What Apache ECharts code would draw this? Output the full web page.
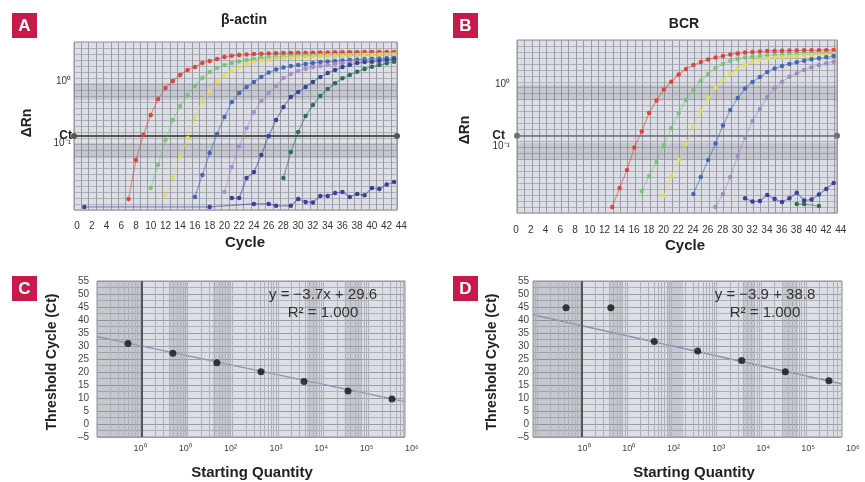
<!DOCTYPE html>
<html><head><meta charset="utf-8">
<script src="https://cdn.jsdelivr.net/npm/echarts@6/dist/echarts.min.js"></script>
<style>html,body{margin:0;padding:0;background:#fff}#c{width:865px;height:482px}</style>
</head><body><div id="c"></div>
<script>
// ---------- Panel A (beta-actin) amplification curves: value per cycle, from start cycle ----------
const aRedStart = 7;
const aRed = [0.0125,0.053,0.135,0.283,0.513,0.771,1.0,1.25,1.5,1.68,1.95,2.1,2.26,2.44,2.55,2.63,2.68,2.72,2.75,2.78,2.80,2.82,2.84,2.85,2.86,2.87,2.88,2.89,2.90,2.91,2.92,2.92,2.93,2.93,2.94,2.94,2.95];
const aGreenStart = 10;
const aGreen = [0.0188,0.0442,0.112,0.235,0.395,0.595,0.831,1.118,1.397,1.62,1.81,1.95,2.06,2.18,2.26,2.35,2.39,2.44,2.48,2.51,2.53,2.55,2.56,2.57,2.58,2.59,2.60,2.60,2.61,2.62,2.62,2.63,2.63,2.64];
const aYellowStart = 12;
const aYellow = [0.0145,0.0272,0.0595,0.1205,0.253,0.458,0.690,0.963,1.204,1.45,1.68,1.88,2.02,2.14,2.22,2.31,2.35,2.39,2.44,2.47,2.50,2.53,2.55,2.57,2.59,2.61,2.63,2.65,2.66,2.68,2.69,2.71];
const aBlueStart = 16;
const aBlue = [0.01346,0.0305,0.069,0.1397,0.263,0.458,0.64,0.8,0.963,1.16,1.371,1.532,1.651,1.746,1.81,1.88,1.95,2.02,2.06,2.10,2.14,2.18,2.21,2.24,2.26,2.29,2.32,2.35];
const aPurpleStart = 20;
const aPurple = [0.0162,0.041,0.0895,0.1746,0.316,0.476,0.64,0.831,1.118,1.297,1.45,1.56,1.68,1.75,1.81,1.88,1.95,1.99,2.02,2.06,2.10,2.14,2.18,2.22];
const aNavyStart = 21;
const aNavy = [0.01297,0.01297,0.0272,0.0341,0.064,0.1297,0.235,0.381,0.552,0.665,0.8,0.963,1.16,1.346,1.504,1.682,1.81,1.95,2.02,2.05,2.13,2.18,2.24];
const aTealStart = 28;
const aTeal = [0.0272,0.0716,0.150,0.272,0.410,0.573,0.743,0.918,1.105,1.25,1.41,1.56,1.70,1.81,1.93,2.05];
const aNoiseCycles = [1,18,24,26,27,29,30,31,32,33,34,35,36,37,38,39,40,41,42,43];
const aNoiseValues = [0.0093,0.0093,0.0104,0.0104,0.0097,0.0097,0.0125,0.0112,0.0110,0.0140,0.0140,0.0156,0.0162,0.0135,0.0151,0.0143,0.0188,0.0181,0.0214,0.0235];
const aThreshold = 0.127;

// ---------- Panel B (BCR) ----------
const bRedStart = 13;
const bRed = [0.01065,0.0216,0.0421,0.0971,0.176,0.35,0.556,0.837,1.118,1.46,1.79,2.08,2.32,2.55,2.75,2.90,3.07,3.19,3.31,3.37,3.43,3.50,3.50,3.53,3.55,3.56,3.58,3.59,3.60,3.61,3.62];
const bGreenStart = 17;
const bGreen = [0.0193,0.0337,0.0566,0.1065,0.2003,0.35,0.567,0.821,1.147,1.488,1.86,2.16,2.41,2.60,2.75,2.85,2.90,2.96,3.01,3.04,3.07,3.10,3.13,3.15,3.17,3.19,3.22];
const bYellowStart = 20;
const bYellow = [0.016,0.0337,0.061,0.1106,0.208,0.377,0.61,0.885,1.19,1.488,1.82,2.08,2.32,2.5,2.65,2.75,2.8,2.85,2.9,2.96,3.01,3.07,3.07,3.13];
const bBlueStart = 24;
const bBlue = [0.01726,0.0325,0.061,0.1127,0.2198,0.391,0.61,0.868,1.105,1.331,1.60,1.82,2.00,2.16,2.30,2.44,2.57,2.67,2.77,2.90];
const bPurpleStart = 27;
const bPurple = [0.01065,0.01726,0.0325,0.0708,0.1407,0.26,0.406,0.634,0.875,1.118,1.346,1.527,1.726,1.91,2.08,2.21,2.35];
const bNoiseStart = 31;
const bNoise = [0.01472,0.01306,0.0133,0.01663,0.01433,0.01282,0.01472,0.01812,0.01356,0.01407,0.01694,0.0208,0.026];
const bLowCycles = [38,39,41];
const bLowValues = [0.0119,0.0119,0.01106];
const bThreshold = 0.149;

// ---------- Axis tick labels ----------
const cycleTicks = {min:0, max:44, step:2};
const logTickValues = [1, 0.1];
const logTickLabels = ['10⁰', '10⁻¹'];
const qtyTickLabels = ['10⁰','10⁰','10²','10³','10⁴','10⁵','10⁶'];

// ---------- Panel C (beta-actin standard curve) ----------
const cQuantity = [0.49, 4.8, 45, 424, 3770, 35300, 330000];
const cCt = [31.0, 27.2, 23.6, 20.1, 16.3, 12.7, 9.6];
const cFitQ = [0.1015, 640000];
const cFitCt = [33.6, 8.6];
// ---------- Panel D (BCR standard curve) ----------
const dQuantity = [0.44, 4.4, 41, 382, 3670, 34600, 326000];
const dCt = [44.7, 44.7, 31.7, 28.1, 24.4, 20.1, 16.6];
const dFitQ = [0.0805, 637000];
const dFitCt = [42.0, 15.4];

// ---------- styling ----------
const FONT = 'Liberation Sans, Arial, Helvetica, sans-serif';
const BG = '#dcdfe5', GL = '#999ca3', GL2 = '#aeb1b7', BAND = 'rgba(105,110,118,0.20)';
const cBands = [[0.1015,1],[4,10],[37,88],[4400,7700],[30000,72000]];
const dBands = [[0.0805,0.93],[4.2,8.2],[80,180],[3900,7300],[31000,66000]];

function seq(start, vals){ return vals.map((v,i)=>[start+i, v]); }
function zip(xs, ys){ return xs.map((x,i)=>[x, ys[i]]); }
function curve(xi, yi, data, color, op){
  return {type:'line', xAxisIndex:xi, yAxisIndex:yi, data:data, symbol:'circle', symbolSize:4.5,
    showSymbol:true, silent:true, z:5,
    itemStyle:{color:color, opacity:op}, lineStyle:{color:color, width:1.2, opacity:op*0.55}};
}
function logFmt(v){
  const l = Math.log10(v);
  for (let i=0;i<logTickValues.length;i++){ if (Math.abs(l-Math.log10(logTickValues[i]))<1e-6) return logTickLabels[i]; }
  return '';
}
function minorLogLines(min, max){
  const out=[];
  for (let k=-2;k<=6;k++) for (let m=1;m<=9;m++){ const v=m*Math.pow(10,k); if (v>min*1.01 && v<max*0.99 && !(k===0&&m===1)) out.push({xAxis:v}); }
  return out;
}
const gridBase = {show:true, backgroundColor:BG, borderColor:'#8d9097', borderWidth:1, outerBoundsMode:'none'};
const strip = {height:1, outerBoundsMode:'none'};

const xAxis = [
  {gridIndex:0, type:'value', min:-0.4, max:43.4, interval:1, axisLabel:{show:false}, axisLine:{show:false}, axisTick:{show:false}, splitLine:{show:true, lineStyle:{color:GL, width:1}}},
  {gridIndex:1, type:'value', min:cycleTicks.min, max:cycleTicks.max, interval:cycleTicks.step, axisLine:{show:false}, axisTick:{show:false}, splitLine:{show:false}, axisLabel:{fontSize:10, color:'#333', margin:10, fontFamily:FONT}},
  {gridIndex:2, type:'value', min:0.1, max:43.45, interval:1, axisLabel:{show:false}, axisLine:{show:false}, axisTick:{show:false}, splitLine:{show:true, lineStyle:{color:GL, width:1}}},
  {gridIndex:3, type:'value', min:cycleTicks.min, max:cycleTicks.max, interval:cycleTicks.step, axisLine:{show:false}, axisTick:{show:false}, splitLine:{show:false}, axisLabel:{fontSize:10, color:'#333', margin:11, fontFamily:FONT}},
  {gridIndex:4, type:'log', min:0.1015, max:640000, axisLabel:{show:false}, axisLine:{show:false}, axisTick:{show:false}, splitLine:{show:false}},
  {gridIndex:5, type:'value', min:0, max:6, interval:1, axisLine:{show:false}, axisTick:{show:false}, splitLine:{show:false}, axisLabel:{fontSize:9, color:'#444', margin:6, fontFamily:FONT, formatter:(v)=>qtyTickLabels[Math.round(v)]}},
  {gridIndex:6, type:'log', min:0.0805, max:637000, axisLabel:{show:false}, axisLine:{show:false}, axisTick:{show:false}, splitLine:{show:false}},
  {gridIndex:7, type:'value', min:0, max:6, interval:1, axisLine:{show:false}, axisTick:{show:false}, splitLine:{show:false}, axisLabel:{fontSize:9, color:'#444', margin:6, fontFamily:FONT, formatter:(v)=>qtyTickLabels[Math.round(v)]}}
];
const hidden = {axisLabel:{show:false}, axisLine:{show:false}, axisTick:{show:false}};
const yAxis = [
  {gridIndex:0, type:'log', min:0.0083, max:4.26, axisLine:{show:false}, axisTick:{show:false}, splitLine:{show:false},
    axisLabel:{fontSize:10, color:'#333', margin:3, padding:[0,0,5,0], fontFamily:FONT, formatter:logFmt, showMinLabel:true, showMaxLabel:true}},
  Object.assign({gridIndex:0, type:'value', min:0, max:28, interval:1, position:'right', splitLine:{show:true, lineStyle:{color:GL2, width:1}}}, hidden),
  Object.assign({gridIndex:1, type:'value', show:false}, {}),
  {gridIndex:2, type:'log', min:0.00853, max:5.26, axisLine:{show:false}, axisTick:{show:false}, splitLine:{show:false},
    axisLabel:{fontSize:10, color:'#333', margin:7, padding:[0,0,5,0], fontFamily:FONT, formatter:logFmt}},
  Object.assign({gridIndex:2, type:'value', min:0, max:29, interval:1, position:'right', splitLine:{show:true, lineStyle:{color:GL2, width:1}}}, hidden),
  {gridIndex:3, type:'value', show:false},
  {gridIndex:4, type:'value', min:-5, max:55, interval:5, axisLine:{show:false}, axisTick:{show:false},
    splitLine:{show:true, lineStyle:{color:GL, width:1}}, minorTick:{show:false, splitNumber:2}, minorSplitLine:{show:true, lineStyle:{color:GL2, width:1}},
    axisLabel:{fontSize:10, color:'#444', margin:8, fontFamily:FONT, formatter:(v)=>String(v).replace('-','–')}},
  {gridIndex:5, type:'value', show:false},
  {gridIndex:6, type:'value', min:-5, max:55, interval:5, axisLine:{show:false}, axisTick:{show:false},
    splitLine:{show:true, lineStyle:{color:GL, width:1}}, minorTick:{show:false, splitNumber:2}, minorSplitLine:{show:true, lineStyle:{color:GL2, width:1}},
    axisLabel:{fontSize:10, color:'#444', margin:4, fontFamily:FONT, formatter:(v)=>String(v).replace('-','–')}},
  {gridIndex:7, type:'value', show:false}
];

function thresholdSeries(xi, yi, thr, color, width, dist, padB){
  return {type:'line', xAxisIndex:xi, yAxisIndex:yi, data:[], silent:true, z:6,
    markLine:{silent:true, symbol:['circle','circle'], symbolSize:6, animation:false,
      lineStyle:{color:color, width:width, type:'solid'}, itemStyle:{color:'#222'},
      label:{show:true, position:'start', formatter:'Ct', fontWeight:'bold', fontSize:12, color:'#222', fontFamily:FONT, distance:dist, padding:[0,0,padB,0]},
      data:[{yAxis:thr}]}};
}
function bandSeries(xi, yi, bands, isX){
  return {type:'line', xAxisIndex:xi, yAxisIndex:yi, data:[], silent:true, z:1,
    markArea:{silent:true, itemStyle:{color:BAND}, data:bands.map(b=> isX ? [{xAxis:b[0]},{xAxis:b[1]}] : [{yAxis:b[0]},{yAxis:b[1]}])}};
}
function vLines(xi, yi, min, max){
  return {type:'line', xAxisIndex:xi, yAxisIndex:yi, data:[], silent:true, z:2,
    markLine:{silent:true, symbol:'none', label:{show:false}, lineStyle:{color:GL2, width:1, type:'solid'}, data:minorLogLines(min,max)}};
}
function unityLine(xi, yi){
  return {type:'line', xAxisIndex:xi, yAxisIndex:yi, data:[], silent:true, z:3,
    markLine:{silent:true, symbol:'none', label:{show:false}, lineStyle:{color:'#555', width:2, type:'solid'}, data:[{xAxis:1}]}};
}

const series = [
  bandSeries(0,0,[[0.5,0.93],[0.057,0.1]],false),
  thresholdSeries(0,0,aThreshold,'#555',2,2,9),
  curve(0,0,seq(aRedStart,aRed),'#e0443c',1),
  curve(0,0,seq(aGreenStart,aGreen),'#72c070',0.85),
  curve(0,0,seq(aYellowStart,aYellow),'#e8dc50',0.85),
  curve(0,0,seq(aBlueStart,aBlue),'#4467b8',1),
  curve(0,0,seq(aPurpleStart,aPurple),'#a788d2',0.9),
  curve(0,0,seq(aNavyStart,aNavy),'#34449a',1),
  curve(0,0,seq(aTealStart,aTeal),'#2c6e57',1),
  curve(0,0,zip(aNoiseCycles,aNoiseValues),'#3a3f9c',1),

  bandSeries(2,3,[[0.56,0.99],[0.061,0.115]],false),
  thresholdSeries(2,3,bThreshold,'#6e7076',1.5,12,2),
  curve(2,3,seq(bRedStart,bRed),'#e0443c',1),
  curve(2,3,seq(bGreenStart,bGreen),'#72c070',0.85),
  curve(2,3,seq(bYellowStart,bYellow),'#e8dc50',0.85),
  curve(2,3,seq(bBlueStart,bBlue),'#4467b8',1),
  curve(2,3,seq(bPurpleStart,bPurple),'#9a88bf',0.9),
  curve(2,3,seq(bNoiseStart,bNoise),'#3a3f9c',1),
  curve(2,3,zip(bLowCycles,bLowValues),'#2c6e57',1),

  bandSeries(4,6,cBands,true),
  vLines(4,6,0.1015,640000),
  unityLine(4,6),
  {type:'line', xAxisIndex:4, yAxisIndex:6, data:zip(cFitQ,cFitCt), symbol:'none', silent:true, z:4, lineStyle:{color:'#8a90b4', width:1.5}},
  {type:'scatter', xAxisIndex:4, yAxisIndex:6, data:zip(cQuantity,cCt), symbolSize:7, silent:true, z:5, itemStyle:{color:'#111'}},

  bandSeries(6,8,dBands,true),
  vLines(6,8,0.0805,637000),
  unityLine(6,8),
  {type:'line', xAxisIndex:6, yAxisIndex:8, data:zip(dFitQ,dFitCt), symbol:'none', silent:true, z:4, lineStyle:{color:'#8a90b4', width:1.5}},
  {type:'scatter', xAxisIndex:6, yAxisIndex:8, data:zip(dQuantity,dCt), symbolSize:7, silent:true, z:5, itemStyle:{color:'#111'}}
];

function txt(x,y,s,font,opts){
  return Object.assign({type:'text', x:x, y:y, silent:true, z:10, style:{text:s, font:font, fill:'#222', align:'center', verticalAlign:'middle', textAlign:'center', textVerticalAlign:'middle'}}, opts||{});
}
function badge(x,y,letter){
  return [{type:'rect', shape:{x:x,y:y,width:25,height:25}, style:{fill:'#c8194b'}, silent:true, z:10},
          txt(x+12.5,y+13,letter,'bold 17px '+FONT,{style:{text:letter,font:'bold 17px '+FONT,fill:'#fff',align:'center',verticalAlign:'middle'}})];
}
const R = Math.PI/2;
const graphic = [].concat(
  badge(12,13,'A'), badge(453,13,'B'), badge(12,276,'C'), badge(453,276,'D'),
  [
    txt(244,20,'β-actin','bold 14px '+FONT),
    txt(684,24,'BCR','bold 14px '+FONT),
    Object.assign(txt(27,123,'ΔRn','bold 14px '+FONT),{rotation:R}),
    Object.assign(txt(465,130,'ΔRn','bold 14px '+FONT),{rotation:R}),
    txt(245,243,'Cycle','bold 15px '+FONT),
    txt(685,246,'Cycle','bold 15px '+FONT),
    Object.assign(txt(52,362,'Threshold Cycle (Ct)','bold 14px '+FONT),{rotation:R}),
    Object.assign(txt(492,362,'Threshold Cycle (Ct)','bold 14px '+FONT),{rotation:R}),
    txt(252,473,'Starting Quantity','bold 15px '+FONT),
    txt(694,473,'Starting Quantity','bold 15px '+FONT),
    txt(323,295,'y = −3.7x + 29.6','15px '+FONT,{style:{text:'y = −3.7x + 29.6',font:'15px '+FONT,fill:'#333',align:'center',verticalAlign:'middle'}}),
    txt(323,313,'R² = 1.000','15px '+FONT,{style:{text:'R² = 1.000',font:'15px '+FONT,fill:'#333',align:'center',verticalAlign:'middle'}}),
    txt(765,295,'y = −3.9 + 38.8','15px '+FONT,{style:{text:'y = −3.9 + 38.8',font:'15px '+FONT,fill:'#333',align:'center',verticalAlign:'middle'}}),
    txt(765,313,'R² = 1.000','15px '+FONT,{style:{text:'R² = 1.000',font:'15px '+FONT,fill:'#333',align:'center',verticalAlign:'middle'}})
  ]
);

const chart = echarts.init(document.getElementById('c'), null, {renderer:'canvas', width:865, height:482});
chart.setOption({
  animation:false,
  backgroundColor:'#ffffff',
  textStyle:{fontFamily:FONT},
  grid:[
    Object.assign({left:74, top:42, width:323, height:168}, gridBase),
    Object.assign({left:77, top:210, width:324.3}, strip),
    Object.assign({left:517, top:40, width:320, height:173}, gridBase),
    Object.assign({left:516, top:213, width:324.7}, strip),
    Object.assign({left:97, top:281, width:308, height:156}, gridBase),
    Object.assign({left:140, top:437, width:271.8}, strip),
    Object.assign({left:533, top:281, width:309, height:156}, gridBase),
    Object.assign({left:584, top:437, width:268.8}, strip)
  ],
  xAxis:xAxis, yAxis:yAxis, series:series, graphic:graphic
});
</script></body></html>
